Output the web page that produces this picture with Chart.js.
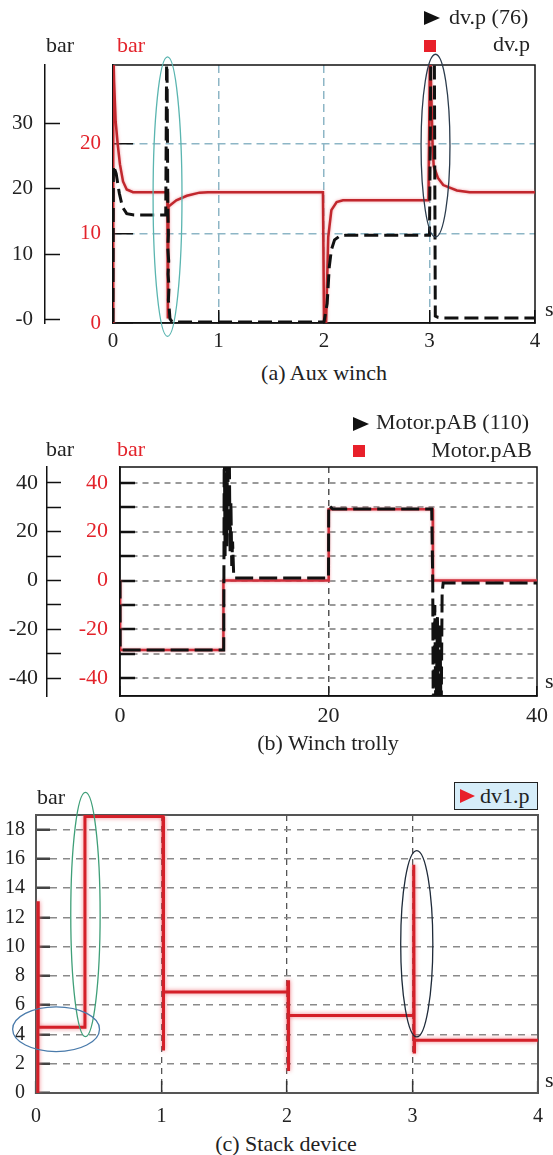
<!DOCTYPE html>
<html>
<head>
  <meta charset="utf-8">
  <title>dv.p</title>
  <script src="https://cdn.jsdelivr.net/npm/chart.js"></script>
  <style>
    body { margin: 0; background: #fff; overflow: hidden; }
    .page { position: relative; width: 553px; height: 1155px; font-family: "Liberation Serif", "Times New Roman", serif; color: #222; }
    .page canvas { position: absolute; left: 0; }
    .t { position: absolute; font-size: 22px; line-height: 22px; white-space: nowrap; }
    .red { color: #e3232b; }
    .tri { position: absolute; width: 0; height: 0; border-top: 7px solid transparent; border-bottom: 7px solid transparent; border-left: 16px solid #111; }
    .sq { position: absolute; width: 12px; height: 12px; background: #e8202a; }
    .cap { position: absolute; font-size: 22px; line-height: 22px; white-space: nowrap; transform: translateX(-50%); }
    .lgbox { position: absolute; left: 454px; top: 782px; width: 82px; height: 26px; background: #d6edf9; border: 1.5px solid #222; }
    .lgbox .rtri { position: absolute; left: 5px; top: 6px; width: 0; height: 0; border-top: 7.5px solid transparent; border-bottom: 7.5px solid transparent; border-left: 15px solid #e8202a; }
    .lgbox span { position: absolute; left: 25px; top: 2px; font-size: 22px; line-height: 22px; }
  </style>
</head>
<body>
<div class="page">
  <canvas id="chartA" width="553" height="360" style="top:0px"></canvas>
  <canvas id="chartB" width="553" height="335" style="top:400px"></canvas>
  <canvas id="chartC" width="553" height="360" style="top:770px"></canvas>

  <!-- (a) -->
  <div class="t" style="left:46px; top:34px">bar</div>
  <div class="t red" style="left:117px; top:34px">bar</div>
  <div class="tri" style="left:424px; top:11px"></div>
  <div class="t" style="left:449px; top:6px">dv.p (76)</div>
  <div class="sq" style="left:424px; top:40px"></div>
  <div class="t" style="right:23px; top:33px">dv.p</div>
  <div class="t" style="left:545px; top:298px">s</div>
  <div class="cap" style="left:324px; top:362px">(a) Aux winch</div>

  <!-- (b) -->
  <div class="t" style="left:46px; top:438px">bar</div>
  <div class="t red" style="left:117px; top:438px">bar</div>
  <div class="tri" style="left:353px; top:417px"></div>
  <div class="t" style="left:376px; top:411px">Motor.pAB (110)</div>
  <div class="sq" style="left:353px; top:445px"></div>
  <div class="t" style="right:21px; top:439px">Motor.pAB</div>
  <div class="t" style="left:545px; top:670px">s</div>
  <div class="cap" style="left:328px; top:732px">(b) Winch trolly</div>

  <!-- (c) -->
  <div class="t" style="left:37px; top:786px">bar</div>
  <div class="lgbox"><div class="rtri"></div><span>dv1.p</span></div>
  <div class="t" style="left:545px; top:1069px">s</div>
  <div class="cap" style="left:286px; top:1133px">(c) Stack device</div>
</div>

<script>
  // (a) Aux winch
  const auxBlackT = [0, 0.004, 0.03, 0.06, 0.09, 0.13, 0.2, 0.5, 0.51, 0.52, 0.525, 0.519, 0.528, 0.522, 0.531, 0.525, 0.534, 0.54, 0.56, 2.0, 2.03, 2.05, 2.07, 2.1, 2.15, 2.2, 3.0, 3.015, 3.045, 3.055, 3.08, 3.12, 4.0];
  const auxBlackP = [-0.3, 23.5, 22.3, 19.3, 17.2, 16.2, 16.0, 16.0, 45, 16.5, 13, 11, 9, 7, 5, 3, 1.5, 0.2, -0.3, -0.3, 2.5, 8.1, 10.7, 12.2, 12.8, 12.9, 12.9, 45, 45, 0.6, 0.4, 0.3, 0.3];
  const auxRedT = [0, 0.002, 0.01, 0.025, 0.045, 0.066, 0.095, 0.13, 0.19, 0.515, 0.52, 0.526, 0.6, 0.7, 0.82, 0.9, 1.99, 2.0, 2.02, 2.04, 2.07, 2.12, 2.18, 2.99, 3.005, 3.03, 3.04, 3.08, 3.13, 3.26, 3.38, 4.0];
  const auxRedP = [0, 31, 27, 22.5, 19.9, 17.7, 15.8, 14.9, 14.6, 14.6, 0.5, 13.0, 13.7, 14.2, 14.55, 14.6, 14.6, 0.1, 0.1, 9.6, 12.6, 13.5, 13.7, 13.7, 31, 19.5, 17.5, 16.2, 15.4, 14.8, 14.6, 14.6];
  const auxXTicks = [0, 1, 2, 3, 4];
  const auxBlackTicks = [0, 10, 20, 30];
  const auxBlackLabels = ['-0', '10', '20', '30'];
  const auxRedTicks = [0, 10, 20];

  // (b) Winch trolly
  const trollyBlackT = [0, 0.02, 9.95, 10.0, 10.08, 10.16, 10.24, 10.32, 10.4, 10.48, 10.56, 10.64, 10.72, 10.8, 10.9, 11.0, 20.0, 20.02, 20.4, 29.9, 30.0, 30.05, 30.2, 30.3, 30.45, 30.55, 30.7, 30.8, 30.9, 31.0, 40.0];
  const trollyBlackP = [0, -28.5, -28.5, 60, 10, 60, 14, 60, 20, 55, 12, 32, 6, 16, 3, 1, 1, 30.8, 29.3, 29.3, -1, -60, -10, -60, -15, -60, -18, -60, -5, -1, -1];
  const trollyRedT = [0, 0.01, 9.9, 9.92, 20.0, 20.02, 30.0, 30.02, 40.0];
  const trollyRedP = [0, -28.5, -28.5, 0, 0, 29.2, 29.2, 0, 0];
  const trollyXTicks = [0, 20, 40];
  const trollyYTicks = [-40, -30, -20, -10, 0, 10, 20, 30, 40];
  const trollyYLabels = ['-40', '', '-20', '', '0', '', '20', '', '40'];

  // (c) Stack device
  const stackT = [0.015, 0.016, 0.018, 0.385, 0.39, 1.012, 1.014, 1.018, 2.006, 2.008, 2.011, 2.014, 3.008, 3.01, 3.013, 3.016, 4.0];
  const stackP = [0, 13.1, 4.5, 4.5, 18.9, 18.9, 2.9, 6.9, 6.9, 7.7, 1.5, 5.3, 5.3, 15.6, 2.8, 3.6, 3.6];
  const stackXTicks = [0, 1, 2, 3, 4];
  const stackYTicks = [0, 2, 4, 6, 8, 10, 12, 14, 16, 18];

  // highlight ovals (data units)
  const auxOvals = [
    { t: 0.517, v: 14.1, rt: 0.137, rv: 15.6, color: '#5ab5b0' },
    { t: 3.057, v: 19.8, rt: 0.137, rv: 10.2, color: '#2a3b4c' }
  ];
  const stackOvals = [
    { t: 0.394, v: 12.2, rt: 0.117, rv: 8.35, color: '#3f9f78' },
    { t: 0.16, v: 4.36, rt: 0.346, rv: 1.53, color: '#4a7bab' },
    { t: 3.034, v: 10.2, rt: 0.128, rv: 6.37, color: '#1f2b3a' }
  ];

  const pts = (ts, ps) => ts.map((t, i) => ({ x: t, y: ps[i] }));
  const setTicks = arr => s => { s.ticks = arr.map(v => ({ value: v })); };
  // fixed axis size, and no label overhang pushing the plot area around
  const fixW = w => s => { s.width = w; s.paddingTop = s.paddingBottom = s.paddingLeft = s.paddingRight = 0; };
  const fixH = h => s => { s.height = h; s.paddingTop = s.paddingBottom = s.paddingLeft = s.paddingRight = 0; };

  Chart.defaults.font.family = '"Liberation Serif", "Times New Roman", serif';
  Chart.defaults.color = '#222';

  // box round the plot
  const framePlugin = {
    id: 'frame',
    beforeDatasetsDraw(chart, args, opts) {
      const a = chart.chartArea, ctx = chart.ctx;
      ctx.save();
      ctx.strokeStyle = opts.color || '#111';
      ctx.lineWidth = opts.width || 1.5;
      ctx.strokeRect(a.left, a.top, a.right - a.left, a.bottom - a.top);
      ctx.restore();
    }
  };

  // soft pink halo round the red trace
  const glowPlugin = {
    id: 'glow',
    beforeDatasetDraw(chart, args, opts) {
      if (args.index !== opts.index) return;
      chart.ctx.save();
      chart.ctx.shadowColor = opts.color;
      chart.ctx.shadowBlur = opts.blur;
    },
    afterDatasetDraw(chart, args, opts) {
      if (args.index !== opts.index) return;
      chart.ctx.restore();
    }
  };

  const ovalPlugin = {
    id: 'ovals',
    afterDraw(chart, args, opts) {
      if (!opts.items) return;
      const xs = chart.scales.x, ys = chart.scales[opts.axis];
      const ctx = chart.ctx;
      ctx.save();
      opts.items.forEach(o => {
        const cx = xs.getPixelForValue(o.t), cy = ys.getPixelForValue(o.v);
        const rx = Math.abs(xs.getPixelForValue(o.t + o.rt) - cx);
        const ry = Math.abs(ys.getPixelForValue(o.v + o.rv) - cy);
        ctx.beginPath();
        ctx.ellipse(cx, cy, rx, ry, 0, 0, Math.PI * 2);
        ctx.strokeStyle = o.color;
        ctx.lineWidth = 1.3;
        ctx.stroke();
      });
      ctx.restore();
    }
  };

  const baseOpts = {
    responsive: false,
    animation: false,
    elements: { point: { radius: 0 }, line: { tension: 0 } },
  };

  // ---- (a) ----
  new Chart(document.getElementById('chartA'), {
    type: 'line',
    data: {
      datasets: [
        { label: 'dv.p (76)', data: pts(auxBlackT, auxBlackP), yAxisID: 'yk', borderColor: '#111', borderWidth: 3, borderDash: [14, 6] },
        { label: 'dv.p', data: pts(auxRedT, auxRedP), yAxisID: 'yr', borderColor: '#c1272d', borderWidth: 2.5 }
      ]
    },
    options: {
      ...baseOpts,
      layout: { padding: { left: 0, right: 18, top: 65, bottom: 7 } },
      plugins: {
        legend: { display: false }, tooltip: { enabled: false },
        frame: { color: '#111', width: 1.5 },
        glow: { index: 1, color: 'rgba(235,120,130,0.7)', blur: 3 },
        ovals: { axis: 'yr', items: auxOvals }
      },
      scales: {
        x: {
          type: 'linear', min: 0, max: 4,
          afterFit: fixH(30),
          afterBuildTicks: setTicks(auxXTicks),
          ticks: { autoSkip: false, maxRotation: 0, padding: 19, font: { size: 21 }, color: '#222' },
          grid: {
            color: c => (c.tick && c.tick.value > 0 && c.tick.value < 4) ? '#8db6c6' : 'transparent',
            lineWidth: 1.5, tickLength: -13, tickColor: '#111', tickWidth: 1.5
          },
          border: { display: true, color: '#111', width: 1.5, dash: [8, 5] }
        },
        yk: {
          position: 'left', weight: 2, min: -0.46, max: 38.85,
          afterFit: fixW(45),
          afterBuildTicks: setTicks(auxBlackTicks),
          ticks: { autoSkip: false, padding: 27, font: { size: 21 }, color: '#222', callback: (v, i) => auxBlackLabels[i] },
          grid: { drawOnChartArea: false, tickLength: -15, tickColor: '#111', tickWidth: 1.5 },
          border: { display: true, color: '#111', width: 1.5 }
        },
        yr: {
          position: 'left', weight: 1, min: 0, max: 28.8,
          afterFit: fixW(68),
          afterBuildTicks: setTicks(auxRedTicks),
          ticks: { autoSkip: false, padding: 32, font: { size: 21 }, color: '#e3232b' },
          grid: {
            color: c => (c.tick && c.tick.value > 0) ? '#8db6c6' : 'transparent',
            lineWidth: 1.5, tickLength: -20, tickColor: '#111', tickWidth: 1.5
          },
          border: { display: true, color: '#111', width: 1.5, dash: [8, 5] }
        }
      }
    },
    plugins: [framePlugin, glowPlugin, ovalPlugin]
  });

  // ---- (b) ----
  new Chart(document.getElementById('chartB'), {
    type: 'line',
    data: {
      datasets: [
        { label: 'Motor.pAB (110)', data: pts(trollyBlackT, trollyBlackP), yAxisID: 'yk', borderColor: '#111', borderWidth: 3, borderDash: [18, 6] },
        { label: 'Motor.pAB', data: pts(trollyRedT, trollyRedP), yAxisID: 'yr', borderColor: '#d0303c', borderWidth: 2.5 }
      ]
    },
    options: {
      ...baseOpts,
      layout: { padding: { left: 0, right: 16, top: 67, bottom: 9 } },
      plugins: {
        legend: { display: false }, tooltip: { enabled: false },
        frame: { color: '#111', width: 1.5 },
        glow: { index: 1, color: 'rgba(240,130,140,0.8)', blur: 3 }
      },
      scales: {
        x: {
          type: 'linear', min: 0, max: 40,
          afterFit: fixH(30),
          afterBuildTicks: setTicks(trollyXTicks),
          ticks: { autoSkip: false, maxRotation: 0, padding: 17.5, font: { size: 22 }, color: '#222' },
          grid: {
            color: c => (c.tick && c.tick.value === 20) ? '#555' : 'transparent',
            lineWidth: 1.5, tickLength: -10, tickColor: '#222', tickWidth: 1.5
          },
          border: { display: true, color: '#111', width: 1.5, dash: [6, 5] }
        },
        yk: {
          position: 'left', weight: 2, min: -47.3, max: 46.5,
          afterFit: fixW(47),
          afterBuildTicks: setTicks(trollyYTicks),
          ticks: { autoSkip: false, padding: 23, font: { size: 22 }, color: '#222', callback: (v, i) => trollyYLabels[i] },
          grid: { drawOnChartArea: false, tickLength: -14, tickColor: '#111', tickWidth: 1.5 },
          border: { display: true, color: '#111', width: 1.5 }
        },
        yr: {
          position: 'left', weight: 1, min: -47.3, max: 46.5,
          afterFit: fixW(73),
          afterBuildTicks: setTicks(trollyYTicks),
          ticks: { autoSkip: false, padding: 27, font: { size: 22 }, color: '#e3232b', callback: (v, i) => trollyYLabels[i] },
          grid: { color: '#9a9a9a', lineWidth: 2, tickLength: -15, tickColor: '#111', tickWidth: 2.5 },
          border: { display: true, color: '#111', width: 1.5, dash: [6, 5] }
        }
      }
    },
    plugins: [framePlugin, glowPlugin]
  });

  // ---- (c) ----
  new Chart(document.getElementById('chartC'), {
    type: 'line',
    data: {
      datasets: [
        { label: 'dv1.p', data: pts(stackT, stackP), yAxisID: 'y', borderColor: '#d42029', borderWidth: 3 }
      ]
    },
    options: {
      ...baseOpts,
      layout: { padding: { left: 0, right: 15, top: 45, bottom: 2 } },
      plugins: {
        legend: { display: false }, tooltip: { enabled: false },
        frame: { color: '#555', width: 2 },
        glow: { index: 0, color: 'rgba(240,110,120,0.9)', blur: 4 },
        ovals: { axis: 'y', items: stackOvals }
      },
      scales: {
        x: {
          type: 'linear', min: 0, max: 4,
          afterFit: fixH(35),
          afterBuildTicks: setTicks(stackXTicks),
          ticks: { autoSkip: false, maxRotation: 0, padding: 24, font: { size: 20 }, color: '#222' },
          grid: {
            color: c => (c.tick && c.tick.value > 0 && c.tick.value < 4) ? '#555' : 'transparent',
            lineWidth: 1.3, tickLength: -12, tickColor: '#333', tickWidth: 1.5
          },
          border: { display: true, color: '#555', width: 2, dash: [6, 5] }
        },
        y: {
          position: 'left', min: 0, max: 19,
          afterFit: fixW(36),
          afterBuildTicks: setTicks(stackYTicks),
          ticks: { autoSkip: false, padding: 25, font: { size: 20 }, color: '#222' },
          grid: {
            color: c => (c.tick && c.tick.value > 0) ? '#8a8a8a' : 'transparent',
            lineWidth: 1.5, tickLength: -14, tickColor: '#444', tickWidth: 2.5
          },
          border: { display: true, color: '#555', width: 2, dash: [7, 6] }
        }
      }
    },
    plugins: [framePlugin, glowPlugin, ovalPlugin]
  });
</script>
</body>
</html>
